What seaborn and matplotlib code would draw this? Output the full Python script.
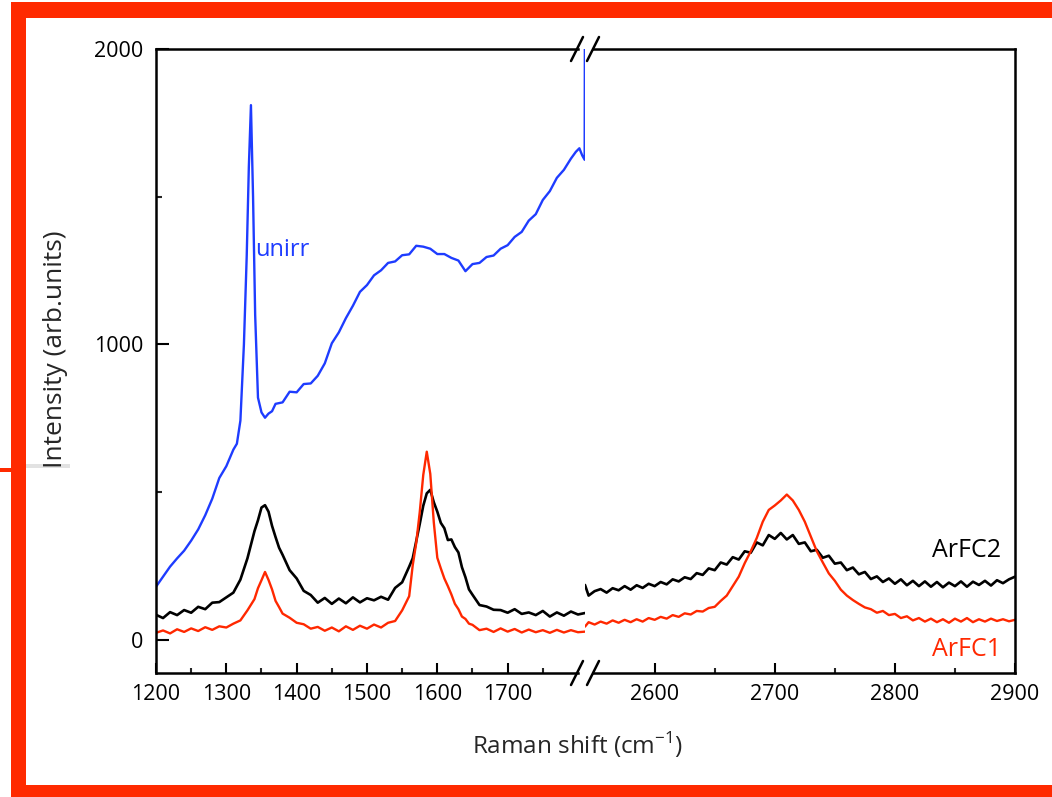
import matplotlib
matplotlib.use("Agg")
import matplotlib.pyplot as plt
from matplotlib.patches import Rectangle
from matplotlib.lines import Line2D
import seaborn as sns

# -------------------------- data --------------------------
# left segment: 1200-1810 cm-1
x_left = [1200, 1210, 1220, 1230, 1240, 1250, 1260, 1270, 1280, 1290, 1300, 1310, 1320, 1330,
          1340, 1345, 1350, 1355, 1360, 1365, 1370, 1375, 1380, 1390, 1400, 1410, 1420, 1430,
          1440, 1450, 1460, 1470, 1480, 1490, 1500, 1510, 1520, 1530, 1540, 1550, 1560, 1565,
          1570, 1575, 1580, 1585, 1590, 1595, 1600, 1605, 1610, 1615, 1620, 1625, 1630, 1635,
          1640, 1645, 1650, 1660, 1670, 1680, 1690, 1700, 1710, 1720, 1730, 1740, 1750, 1760,
          1770, 1780, 1790, 1800, 1810]
arfc2_left = [85, 74, 94, 84, 101, 92, 112, 104, 126, 128, 144, 160, 204, 276,
              368, 405, 448, 456, 434, 386, 348, 312, 288, 236, 208, 166, 152, 126,
              142, 122, 140, 124, 144, 127, 141, 134, 146, 136, 176, 195, 248, 276,
              334, 392, 454, 496, 508, 466, 434, 396, 378, 338, 340, 314, 296, 246,
              212, 171, 153, 118, 113, 102, 101, 92, 104, 88, 93, 84, 98, 79,
              93, 82, 96, 86, 91]
arfc1_left = [24, 32, 22, 36, 27, 39, 30, 43, 34, 46, 42, 55, 66, 100,
              138, 175, 202, 230, 203, 171, 132, 111, 89, 75, 58, 53, 38, 44,
              31, 42, 29, 46, 34, 48, 38, 52, 42, 58, 64, 100, 148, 252,
              328, 432, 558, 637, 562, 398, 278, 242, 208, 182, 154, 122, 104, 79,
              71, 55, 51, 33, 38, 27, 39, 28, 37, 25, 35, 26, 33, 24,
              34, 25, 33, 26, 28]

x_unirr = [1200, 1210, 1220, 1230, 1240, 1250, 1260, 1270, 1280, 1290, 1300, 1310, 1315, 1320,
           1325, 1329, 1332, 1335, 1338, 1341, 1345, 1350, 1355, 1360, 1365, 1370, 1380, 1390,
           1400, 1410, 1420, 1430, 1440, 1450, 1460, 1470, 1480, 1490, 1500, 1510, 1520, 1530,
           1540, 1550, 1560, 1570, 1580, 1590, 1600, 1610, 1620, 1630, 1640, 1650, 1660, 1670,
           1680, 1690, 1700, 1710, 1720, 1730, 1740, 1750, 1760, 1770, 1780, 1790, 1797, 1802,
           1806, 1809.5, 1809.9]
unirr = [180, 214, 248, 276, 302, 336, 374, 422, 478, 548, 588, 644, 664, 742,
         1000, 1300, 1600, 1810, 1500, 1100, 820, 770, 752, 766, 774, 799, 804, 840,
         838, 866, 868, 894, 936, 1004, 1041, 1089, 1131, 1178, 1201, 1234, 1251, 1276,
         1281, 1302, 1305, 1334, 1331, 1324, 1306, 1306, 1293, 1284, 1248, 1272, 1276, 1296,
         1301, 1324, 1336, 1364, 1381, 1419, 1441, 1489, 1519, 1564, 1591, 1629, 1652, 1664,
         1640, 1625, 2150]

# right segment: 2542-2900 cm-1
x_right = [2542, 2545, 2550, 2555, 2560, 2565, 2570, 2575, 2580, 2585, 2590, 2595, 2600, 2605,
           2610, 2615, 2620, 2625, 2630, 2635, 2640, 2645, 2650, 2655, 2660, 2665, 2670, 2675,
           2680, 2685, 2690, 2695, 2700, 2705, 2710, 2715, 2720, 2725, 2730, 2735, 2740, 2745,
           2750, 2755, 2760, 2765, 2770, 2775, 2780, 2785, 2790, 2795, 2800, 2805, 2810, 2815,
           2820, 2825, 2830, 2835, 2840, 2845, 2850, 2855, 2860, 2865, 2870, 2875, 2880, 2885,
           2890, 2895, 2900]
arfc2_right = [186, 150, 165, 172, 160, 175, 168, 182, 170, 185, 176, 190, 182, 196,
               188, 205, 198, 212, 206, 226, 220, 242, 236, 262, 255, 280, 272, 300,
               295, 330, 320, 355, 342, 362, 340, 355, 325, 330, 300, 305, 278, 285,
               258, 262, 236, 245, 222, 230, 206, 215, 196, 208, 190, 205, 185, 200,
               182, 198, 180, 196, 178, 194, 182, 198, 180, 197, 186, 200, 184, 202,
               192, 205, 214]
arfc1_right = [45, 60, 52, 62, 55, 66, 58, 68, 60, 70, 62, 74, 68, 78,
               72, 84, 78, 90, 86, 98, 96, 108, 112, 132, 150, 182, 214, 260,
               300, 345, 400, 440, 455, 472, 492, 472, 440, 400, 350, 300, 262, 225,
               200, 170, 150, 135, 122, 110, 104, 92, 98, 84, 88, 74, 80, 66,
               74, 62, 72, 60, 70, 58, 72, 62, 74, 60, 70, 62, 72, 64,
               70, 63, 68]

left_ticks = [1200, 1300, 1400, 1500, 1600, 1700]
left_minor = [1250, 1350, 1450, 1550, 1650, 1750]
right_ticks = [2600, 2700, 2800, 2900]
right_minor = [2650, 2750, 2850]
y_ticks = [0, 1000, 2000]
y_minor = [500, 1500]

# -------------------------- style --------------------------
sns.set_theme(style="ticks")
plt.rcParams['font.family'] = ['Open Sans', 'DejaVu Sans']

BLUE = "#1e3cff"
RED = "#ff2800"
FRAME_RED = "#ff2a00"

W, H = 1052, 797
fig = plt.figure(figsize=(W / 100, H / 100), dpi=100)
ax1 = fig.add_axes([156 / W, 1 - 673 / H, 429 / W, 624 / H])
ax2 = fig.add_axes([585 / W, 1 - 673 / H, 430 / W, 624 / H])

# -------------------------- curves --------------------------
sns.lineplot(x=x_unirr, y=unirr, ax=ax1, color=BLUE, lw=1.7, estimator=None, sort=False)
sns.lineplot(x=x_left, y=arfc2_left, ax=ax1, color="black", lw=1.9, estimator=None, sort=False)
sns.lineplot(x=x_left, y=arfc1_left, ax=ax1, color=RED, lw=1.7, estimator=None, sort=False)
sns.lineplot(x=x_right, y=arfc2_right, ax=ax2, color="black", lw=1.9, estimator=None, sort=False)
sns.lineplot(x=x_right, y=arfc1_right, ax=ax2, color=RED, lw=1.7, estimator=None, sort=False)

ax1.set_xlim(1200, 1810)
ax2.set_xlim(2542, 2900)
for ax in (ax1, ax2):
    ax.set_ylim(-112, 2000)
    ax.set_xlabel("")
    ax.set_ylabel("")
    for s in ax.spines.values():
        s.set_color("black")
        s.set_linewidth(1.8)

ax1.spines['right'].set_visible(False)
ax2.spines['left'].set_visible(False)
ax1.spines['top'].set_bounds(1200, 1800)
ax1.spines['bottom'].set_bounds(1200, 1800)
ax2.spines['top'].set_bounds(2549, 2900)
ax2.spines['bottom'].set_bounds(2549, 2900)

ax1.set_xticks(left_ticks)
ax1.set_xticks(left_minor, minor=True)
ax2.set_xticks(right_ticks)
ax2.set_xticks(right_minor, minor=True)
ax1.set_yticks(y_ticks)
ax1.set_yticks(y_minor, minor=True)
ax2.set_yticks([])

for ax in (ax1, ax2):
    ax.tick_params(axis='x', which='major', direction='in', length=7.5, width=1.5,
                   labelsize=15.5, pad=8, colors='black', top=False)
    ax.tick_params(axis='x', which='minor', direction='in', length=3.5, width=1.5, top=False)
ax1.tick_params(axis='y', which='major', direction='in', length=9, width=1.5,
                labelsize=15.5, pad=9, colors='black', right=False)
ax1.tick_params(axis='y', which='minor', direction='in', length=4, width=1.5, right=False)
ax2.tick_params(axis='y', which='both', left=False, right=False)

# -------------------------- labels --------------------------
ax1.text(1341, 1320, "unirr", color=BLUE, fontsize=17, ha='left', va='center')
ax2.text(2831, 301, "ArFC2", color="black", fontsize=18, ha='left', va='center')
ax2.text(2831, -34, "ArFC1", color=RED, fontsize=18, ha='left', va='center')

fig.text(578 / W, 1 - 745 / H, "Raman shift (cm$^{\\mathregular{-1}}$)", fontsize=17.5,
         ha='center', va='center')
fig.text(55 / W, 1 - 349 / H, "Intensity (arb.units)", fontsize=19, rotation=90,
         ha='center', va='center')

# axis break marks
for cx in (577, 593):
    for cy in (49, 673):
        fig.add_artist(Line2D([(cx - 6) / W, (cx + 6) / W], [1 - (cy + 12) / H, 1 - (cy - 12) / H],
                              color='black', lw=1.8))

# slide frame
for (x0, y0, x1, y1, c) in [(11, 2, 1052, 18, FRAME_RED), (11, 2, 26, 797, FRAME_RED),
                            (11, 785, 1052, 797, FRAME_RED), (0, 468, 11, 472, FRAME_RED),
                            (26, 464, 70, 468, "#e2e2e2")]:
    fig.add_artist(Rectangle((x0 / W, 1 - y1 / H), (x1 - x0) / W, (y1 - y0) / H,
                             transform=fig.transFigure, color=c, lw=0))

fig.savefig("out.png", dpi=100)
